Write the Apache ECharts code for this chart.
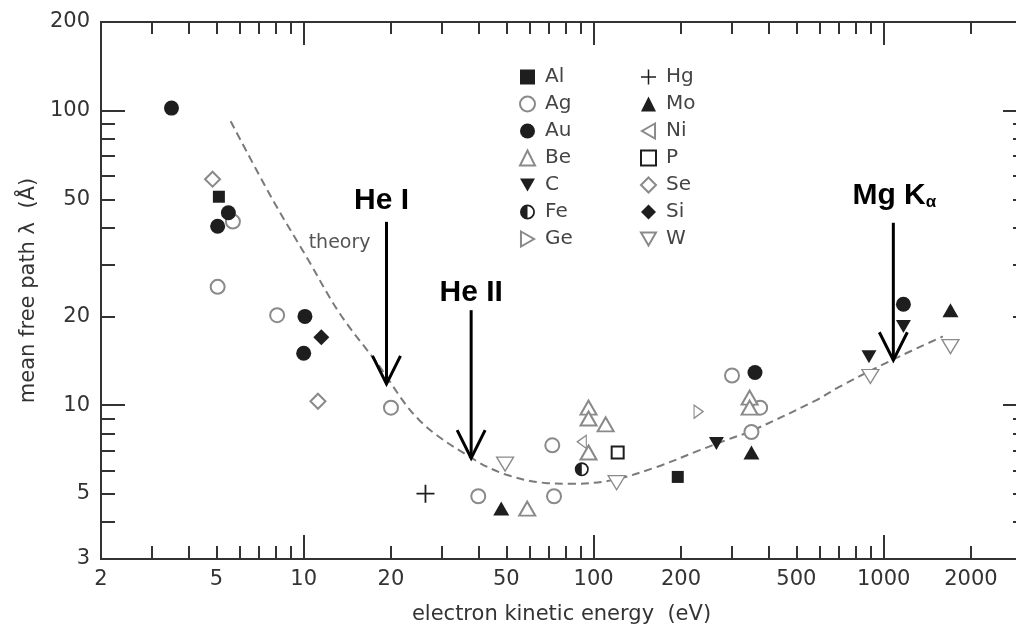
<!DOCTYPE html>
<html>
<head>
<meta charset="utf-8">
<title>Electron mean free path</title>
<script src="https://cdn.jsdelivr.net/npm/echarts@6/dist/echarts.min.js"></script>
<style>
  html, body { margin: 0; padding: 0; background: #fff; }
  #chart { width: 1016px; height: 631px; }
</style>
</head>
<body>
<div id="chart"></div>
<script>
// ---- axis ticks and labels ----
const xTickLabels = [2, 5, 10, 20, 50, 100, 200, 500, 1000, 2000];
const xMajorTicks = [10, 100, 1000];
const xMinorTicks = [3, 4, 5, 6, 7, 8, 9, 20, 30, 40, 50, 60, 70, 80, 90,
                     200, 300, 400, 500, 600, 700, 800, 900, 2000];
const yTickLabels = [3, 5, 10, 20, 50, 100, 200];
const yMajorTicks = [10, 100];
const yMinorTicks = [4, 5, 6, 7, 8, 9, 20, 30, 40, 50, 60, 70, 80, 90];

// ---- measured mean free paths: [kinetic energy (eV), lambda (Å)] ----
const elementsCol1 = ['Al', 'Ag', 'Au', 'Be', 'C', 'Fe', 'Ge'];
const elementsCol2 = ['Hg', 'Mo', 'Ni', 'P', 'Se', 'Si', 'W'];
const Al = [[5.1, 51], [195, 5.7]];
const Ag = [[5.7, 42], [5.05, 25.2], [8.1, 20.2], [20, 9.8], [40, 4.9], [72, 7.3],
            [73, 4.9], [300, 12.6], [375, 9.8], [350, 8.1]];
const Au = [[3.5, 102], [5.5, 45], [5.05, 40.5], [10.1, 20], [10, 15], [360, 12.9], [1170, 22]];
const Be = [[59, 4.45], [96, 9.8], [96, 9.0], [110, 8.6], [96, 6.9], [345, 10.6], [345, 9.8]];
const C  = [[265, 7.4], [890, 14.6], [1170, 18.5]];
const Fe = [[91, 6.05]];
const Ge = [[230, 9.5]];
const Hg = [[26.3, 5.0]];
const Mo = [[48, 4.45], [350, 6.9], [1700, 21]];
const Ni = [[91, 7.5]];
const P  = [[121, 6.9]];
const Se = [[4.85, 58.5], [11.2, 10.3]];
const Si = [[11.5, 17]];
const W  = [[49.5, 6.3], [120, 5.45], [900, 12.5], [1700, 15.8]];

// ---- universal curve (theory) ----
const theory = [[5.6, 92], [7.8, 50], [10.2, 32], [13.3, 20.5], [17.8, 14.0],
                [25, 8.9], [38, 6.6], [50, 5.8], [69, 5.43], [84, 5.4], [116, 5.56],
                [164, 6.15], [230, 7.0], [286, 7.6], [349, 8.16], [587, 10.4], [700, 11.5],
                [1065, 14.2], [1600, 17.1]];

// ---- photon sources: name, kinetic energy (eV), arrow start λ, arrow tip λ ----
const sourceNames = ['He I', 'He II', 'Mg Kα'];
const sourceEnergy = [19.3, 37.8, 1080];
const sourceArrowTop = [41.9, 21.0, 41.6];
const sourceArrowTip = [11.8, 6.6, 14.2];

const seriesData = { Al, Ag, Au, Be, C, Fe, Ge, Hg, Mo, Ni, P, Se, Si, W };

// ---- styling ----
const FONT = 'DejaVu Sans';
const BOLD_FONT = 'Liberation Sans, Arial, sans-serif';
const INK = '#1e1e1e';
const GRAY = '#8a8a8a';
const AXIS = '#333';
// left half disc plus a thin right half ring
const HALF_DISC = 'path://M50,0 A50,50 0 0,0 50,100 Z M50,0 A50,50 0 0,1 50,100 L50,88 A38,38 0 0,0 50,12 Z';
const PLUS = 'path://M0,45 L45,45 L45,0 L55,0 L55,45 L100,45 L100,55 L55,55 L55,100 L45,100 L45,55 L0,55 Z';
const DOWN_TRI = 'path://M0,0 L100,0 L50,87 Z';
const RIGHT_TRI = 'path://M0,0 L87,50 L0,100 Z';
const LEFT_TRI = 'path://M87,0 L0,50 L87,100 Z';

// open (hollow) markers drawn with white fill and a grey outline
const hollow = { color: '#fff', borderColor: GRAY, borderWidth: 1.3 };
const markerStyle = {
  Al: { symbol: 'rect', size: 12, style: { color: INK } },
  Ag: { symbol: 'emptyCircle', size: 14, style: { color: GRAY, borderWidth: 1.3 } },
  Au: { symbol: 'circle', size: 15, style: { color: INK } },
  Be: { symbol: 'emptyTriangle', size: [16, 14], style: { color: GRAY, borderWidth: 1.3 } },
  C:  { symbol: DOWN_TRI, size: [15, 13], style: { color: INK } },
  Fe: { symbol: HALF_DISC, size: 14, style: { color: INK } },
  Ge: { symbol: RIGHT_TRI, size: [9, 13], style: hollow },
  Hg: { symbol: PLUS, size: 18, style: { color: INK } },
  Mo: { symbol: 'triangle', size: [16, 14], style: { color: INK } },
  Ni: { symbol: LEFT_TRI, size: [9, 13], style: hollow },
  P:  { symbol: 'emptyRect', size: 12, style: { color: INK, borderWidth: 2 } },
  Se: { symbol: 'emptyDiamond', size: 15, style: { color: GRAY, borderWidth: 1.3 } },
  Si: { symbol: 'diamond', size: 16, style: { color: INK } },
  W:  { symbol: DOWN_TRI, size: [17, 14], style: hollow }
};

// label placement relative to the top of each arrow
const sourceLabelOffset = { 'He I': [-5, -21], 'He II': [0, -17], 'Mg Kα': [1, -27] };

const chart = echarts.init(document.getElementById('chart'), null, { renderer: 'canvas' });

const plainNumber = v => String(Math.round(v));

function xAxis(position, ticks, len, withLabels) {
  return {
    type: 'log', logBase: 10, min: 2, max: 3000, position,
    axisLine: { show: true, lineStyle: { color: AXIS, width: 2 } },
    axisTick: { show: true, inside: true, length: len, customValues: ticks,
                lineStyle: { color: AXIS, width: 2 } },
    axisLabel: withLabels
      ? { show: true, customValues: xTickLabels, margin: 10, formatter: plainNumber,
          fontFamily: FONT, fontSize: 21, color: AXIS }
      : { show: false },
    splitLine: { show: false },
    minorTick: { show: false },
    name: withLabels ? 'electron kinetic energy  (eV)' : '',
    nameLocation: 'middle', nameGap: 45,
    nameTextStyle: { fontFamily: FONT, fontSize: 21, color: AXIS }
  };
}
function yAxis(position, ticks, len, withLabels) {
  return {
    type: 'log', logBase: 10, min: 3, max: 200, position,
    axisLine: { show: true, lineStyle: { color: AXIS, width: 2 } },
    axisTick: { show: true, inside: true, length: len, customValues: ticks,
                lineStyle: { color: AXIS, width: 2 } },
    axisLabel: withLabels
      ? { show: true, customValues: yTickLabels, margin: 11, formatter: plainNumber,
          fontFamily: FONT, fontSize: 21, color: AXIS }
      : { show: false },
    splitLine: { show: false },
    minorTick: { show: false },
    name: withLabels ? 'mean free path λ  (Å)' : '',
    nameLocation: 'middle', nameGap: 62,
    nameTextStyle: { fontFamily: FONT, fontSize: 21, color: AXIS }
  };
}

const pointSeries = elementsCol1.concat(elementsCol2).map(name => {
  const s = markerStyle[name];
  return {
    name, type: 'scatter', data: seriesData[name],
    symbol: s.symbol, symbolSize: s.size,
    itemStyle: Object.assign({ opacity: 1 }, s.style),
    z: 4
  };
});

const theorySeries = {
  name: 'theory', type: 'line', data: theory, smooth: 0.35,
  showSymbol: false, symbol: 'none',
  lineStyle: { color: '#7a7a7a', width: 2, type: [8, 5] },
  z: 3,
  markPoint: {
    symbol: 'circle', symbolSize: 0,
    data: [{ coord: [13.3, 35.5], value: 'theory' }],
    label: { show: true, formatter: 'theory', position: 'inside',
             fontFamily: FONT, fontSize: 19, color: '#555' }
  }
};

const sourceSeries = {
  name: 'sources', type: 'custom', clip: false, z: 6,
  data: sourceNames.map((n, i) => [sourceEnergy[i], sourceArrowTop[i], sourceArrowTip[i]]),
  renderItem(params, api) {
    const top = api.coord([api.value(0), api.value(1)]);
    const tip = api.coord([api.value(0), api.value(2)]);
    const name = sourceNames[params.dataIndex];
    const off = sourceLabelOffset[name];
    const isMg = name.indexOf('K') >= 0;
    return {
      type: 'group',
      children: [
        { type: 'line', shape: { x1: top[0], y1: top[1], x2: tip[0], y2: tip[1] },
          style: { stroke: '#000', lineWidth: 3 } },
        { type: 'polyline',
          shape: { points: [[tip[0] - 14, tip[1] - 28], [tip[0], tip[1]], [tip[0] + 14, tip[1] - 28]] },
          style: { stroke: '#000', lineWidth: 3, fill: null } },
        { type: 'text', x: top[0] + off[0], y: top[1] + off[1],
          style: isMg
            ? { text: '{b|Mg K}{s|α}', align: 'center', verticalAlign: 'middle',
                rich: {
                  b: { fontFamily: BOLD_FONT, fontWeight: 'bold', fontSize: 30, lineHeight: 30, fill: '#000', verticalAlign: 'bottom' },
                  s: { fontFamily: BOLD_FONT, fontWeight: 'bold', fontSize: 17, lineHeight: 13, fill: '#000', verticalAlign: 'bottom' }
                } }
            : { text: name, align: 'center', verticalAlign: 'middle',
                fontFamily: BOLD_FONT, fontWeight: 'bold', fontSize: 30, fill: '#000' } }
      ]
    };
  }
};

const legendBase = {
  orient: 'vertical', padding: 0, itemWidth: 15, itemHeight: 15, itemGap: 7,
  selectedMode: false,
  textStyle: { fontFamily: FONT, fontSize: 20, color: '#444', padding: [0, 0, 0, 5] }
};

chart.setOption({
  animation: false,
  backgroundColor: '#fff',
  grid: { left: 101, top: 22, width: 921, height: 537, containLabel: false, outerBoundsMode: 'none' },
  xAxis: [
    xAxis('bottom', xMinorTicks, 13, true),
    xAxis('bottom', xMajorTicks, 24, false),
    xAxis('top', xMinorTicks, 12, false),
    xAxis('top', xMajorTicks, 23, false)
  ],
  yAxis: [
    yAxis('left', yMinorTicks, 14, true),
    yAxis('left', yMajorTicks, 24, false),
    yAxis('right', yMinorTicks, 9, false),
    yAxis('right', yMajorTicks, 19, false)
  ],
  legend: [
    Object.assign({}, legendBase, { data: elementsCol1, left: 519, top: 67 }),
    Object.assign({}, legendBase, { data: elementsCol2, left: 640, top: 67 })
  ],
  series: [theorySeries].concat(pointSeries, [sourceSeries])
});
</script>
</body>
</html>
